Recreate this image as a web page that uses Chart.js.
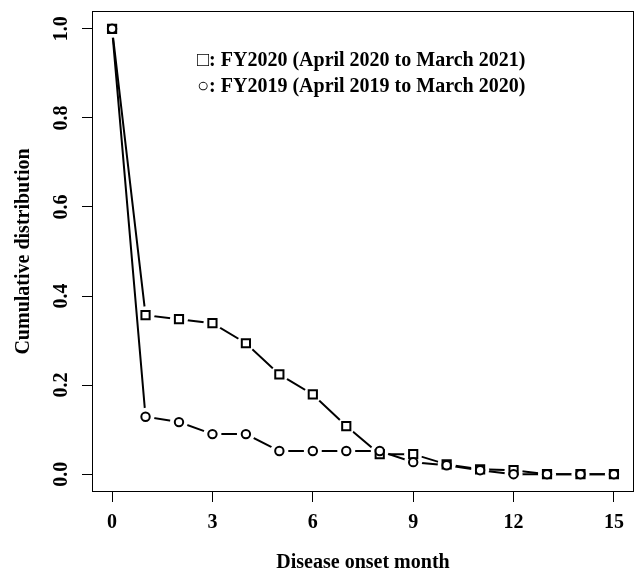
<!DOCTYPE html>
<html>
<head>
<meta charset="utf-8">
<script src="https://cdn.jsdelivr.net/npm/chart.js@4/dist/chart.umd.min.js"></script>
<style>
  html, body { margin: 0; padding: 0; background: #fff; }
  canvas { display: block; }
</style>
</head>
<body>
<canvas id="chart" width="635" height="573"></canvas>
<script>
const months = [0, 1, 2, 3, 4, 5, 6, 7, 8, 9, 10, 11, 12, 13, 14, 15];
const fy2020 = [1.0, 0.357, 0.348, 0.339, 0.294, 0.224, 0.179, 0.108, 0.045, 0.045, 0.022, 0.011, 0.009, 0.0, 0.0, 0.0];
const fy2019 = [1.0, 0.129, 0.117, 0.090, 0.090, 0.052, 0.052, 0.052, 0.052, 0.027, 0.020, 0.009, 0.0, 0.0, 0.0, 0.0];
const xTicks = [0, 3, 6, 9, 12, 15];
const yTicks = [0, 0.2, 0.4, 0.6, 0.8, 1.0];
const legendLines = ['\u25A1: FY2020 (April 2020 to March 2021)', '\u25CB: FY2019 (April 2019 to March 2020)'];
const xTitle = 'Disease onset month';
const yTitle = 'Cumulative distribution';

const serif = "'Liberation Serif', 'Times New Roman', serif";
const font = { family: serif, size: 20, weight: 'bold' };

function pts(values) {
    return months.map((m, i) => ({ x: m, y: values[i] }));
}

// line only, white halo to cut gaps round the points (like R type="b"), then markers
function lineSet(values, order) {
    return { data: pts(values), showLine: true, borderColor: '#000', borderWidth: 2, pointRadius: 0, order: order };
}
function gapSet(values, order) {
    return { data: pts(values), showLine: false, pointRadius: 9, pointStyle: 'circle',
        pointBackgroundColor: '#fff', pointBorderColor: '#fff', pointBorderWidth: 0, order: order };
}
function markerSet(values, style, radius, order) {
    return { data: pts(values), showLine: false, pointStyle: style, pointRadius: radius,
        pointBackgroundColor: '#fff', pointBorderColor: '#000', pointBorderWidth: 2, order: order };
}

const boxPlugin = {
    id: 'box',
    afterDraw(chart) {
        const { ctx, chartArea: a } = chart;
        ctx.save();
        ctx.strokeStyle = '#000';
        ctx.lineWidth = 1;
        ctx.strokeRect(Math.round(a.left) + 0.5, Math.round(a.top) + 0.5,
            Math.round(a.right - a.left) - 1, Math.round(a.bottom - a.top) - 1);
        ctx.restore();
    }
};

const legendPlugin = {
    id: 'textLegend',
    afterDraw(chart) {
        const { ctx, chartArea: a } = chart;
        ctx.save();
        ctx.fillStyle = '#000';
        ctx.font = 'bold 20px ' + serif;
        ctx.textAlign = 'left';
        ctx.textBaseline = 'middle';
        legendLines.forEach((t, i) => {
            ctx.fillText(t, a.left + 105, a.top + 50 + i * 26);
        });
        ctx.restore();
    }
};

new Chart(document.getElementById('chart'), {
    type: 'line',
    data: {
        datasets: [
            lineSet(fy2020, 6),
            gapSet(fy2020, 5),
            lineSet(fy2019, 4),
            gapSet(fy2019, 3),
            markerSet(fy2020, 'rect', 5.8, 2),
            markerSet(fy2019, 'circle', 4.2, 1)
        ]
    },
    options: {
        responsive: false,
        animation: false,
        layout: { autoPadding: false, padding: { top: 11, right: 1, left: 0, bottom: 0 } },
        plugins: { legend: { display: false }, tooltip: { enabled: false } },
        scales: {
            x: {
                type: 'linear',
                min: -0.6,
                max: 15.6,
                afterBuildTicks: axis => { axis.ticks = xTicks.map(v => ({ value: v })); },
                afterFit: axis => { axis.height = 81; axis.paddingLeft = 0; axis.paddingRight = 0; },
                ticks: { color: '#000', font: font, padding: 9, maxRotation: 0 },
                grid: { drawOnChartArea: false, drawTicks: true, tickLength: 10, color: '#000', lineWidth: 1 },
                border: { display: false },
                title: { display: true, text: xTitle, color: '#000', font: font, padding: { top: 0, bottom: -2 } }
            },
            y: {
                type: 'linear',
                min: -0.04,
                max: 1.04,
                afterBuildTicks: axis => { axis.ticks = yTicks.map(v => ({ value: v })); },
                afterFit: axis => { axis.width = 92; axis.paddingTop = 0; axis.paddingBottom = 0; },
                ticks: { color: '#000', font: font, padding: 8, minRotation: 90, maxRotation: 90,
                    crossAlign: 'center', callback: v => v.toFixed(1) },
                grid: { drawOnChartArea: false, drawTicks: true, tickLength: 10, color: '#000', lineWidth: 1 },
                border: { display: false },
                title: { display: true, text: yTitle, color: '#000', font: font, padding: { top: 12, bottom: 0 } }
            }
        }
    },
    plugins: [boxPlugin, legendPlugin]
});
</script>
</body>
</html>
